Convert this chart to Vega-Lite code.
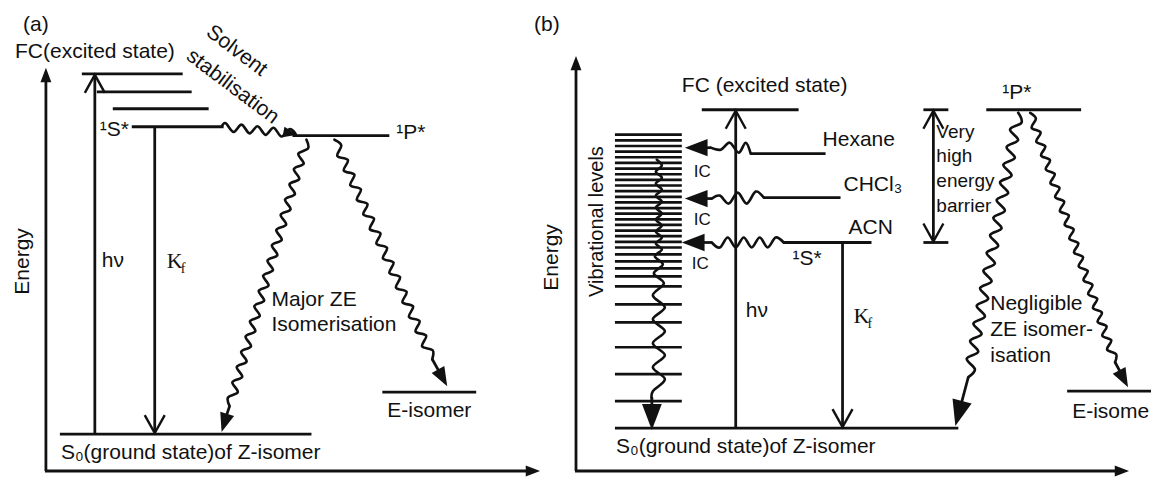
{
  "$schema": "https://vega.github.io/schema/vega-lite/v6.json",
  "width": 1153,
  "height": 477,
  "autosize": {"type": "fit", "contains": "padding"},
  "padding": 0,
  "background": "white",
  "config": {"view": {"stroke": null}},
  "datasets": {
    "segs": [
      {"x":82,"y":74,"x2":183,"y2":74,"kind":"level"},
      {"x":97,"y":92,"x2":192,"y2":92,"kind":"level"},
      {"x":113,"y":109,"x2":209,"y2":109,"kind":"level"},
      {"x":132,"y":127,"x2":224,"y2":127,"kind":"level"},
      {"x":293,"y":136,"x2":390,"y2":136,"kind":"level"},
      {"x":383,"y":393,"x2":477,"y2":393,"kind":"level"},
      {"x":60,"y":435,"x2":312,"y2":435,"kind":"level"},
      {"x":95,"y":435,"x2":95,"y2":76,"kind":"arrow"},
      {"x":155,"y":127,"x2":155,"y2":433,"kind":"arrow"},
      {"x":46,"y":472,"x2":46,"y2":76,"kind":"axis"},
      {"x":45,"y":472,"x2":534,"y2":472,"kind":"axis"},
      {"x":230,"y":407,"x2":225,"y2":422,"kind":"shaft"},
      {"x":433,"y":360,"x2":442,"y2":376,"kind":"shaft"},
      {"x":703,"y":110,"x2":800,"y2":110,"kind":"level"},
      {"x":752,"y":154,"x2":827,"y2":154,"kind":"level"},
      {"x":765,"y":198,"x2":842,"y2":198,"kind":"level"},
      {"x":785,"y":243,"x2":873,"y2":243,"kind":"level"},
      {"x":616,"y":429,"x2":960,"y2":429,"kind":"level"},
      {"x":988,"y":110,"x2":1083,"y2":110,"kind":"level"},
      {"x":1069,"y":392,"x2":1153,"y2":392,"kind":"level"},
      {"x":925,"y":110,"x2":950,"y2":110,"kind":"level"},
      {"x":925,"y":243,"x2":950,"y2":243,"kind":"level"},
      {"x":737,"y":429,"x2":737,"y2":112,"kind":"arrow"},
      {"x":844,"y":243,"x2":844,"y2":427,"kind":"arrow"},
      {"x":935,"y":112,"x2":935,"y2":241,"kind":"arrow"},
      {"x":577,"y":472,"x2":577,"y2":63,"kind":"axis"},
      {"x":576,"y":472,"x2":1124,"y2":472,"kind":"axis"},
      {"x":712,"y":148,"x2":696,"y2":148,"kind":"shaft"},
      {"x":713,"y":199,"x2":696,"y2":199,"kind":"shaft"},
      {"x":713,"y":243,"x2":693,"y2":243,"kind":"shaft"},
      {"x":653,"y":398,"x2":653,"y2":412,"kind":"thinshaft"},
      {"x":970,"y":378,"x2":962,"y2":408,"kind":"thinshaft"},
      {"x":1117,"y":363,"x2":1125,"y2":378,"kind":"shaft"},
      {"x":616,"y":135,"x2":683,"y2":135,"kind":"dense"},
      {"x":616,"y":140.7,"x2":683,"y2":140.7,"kind":"dense"},
      {"x":616,"y":146.3,"x2":683,"y2":146.3,"kind":"dense"},
      {"x":616,"y":152,"x2":683,"y2":152,"kind":"dense"},
      {"x":616,"y":157.6,"x2":683,"y2":157.6,"kind":"dense"},
      {"x":616,"y":163.3,"x2":683,"y2":163.3,"kind":"dense"},
      {"x":616,"y":168.9,"x2":683,"y2":168.9,"kind":"dense"},
      {"x":616,"y":174.6,"x2":683,"y2":174.6,"kind":"dense"},
      {"x":616,"y":180.2,"x2":683,"y2":180.2,"kind":"dense"},
      {"x":616,"y":185.9,"x2":683,"y2":185.9,"kind":"dense"},
      {"x":616,"y":191.5,"x2":683,"y2":191.5,"kind":"dense"},
      {"x":616,"y":197.2,"x2":683,"y2":197.2,"kind":"dense"},
      {"x":616,"y":202.8,"x2":683,"y2":202.8,"kind":"dense"},
      {"x":616,"y":208.5,"x2":683,"y2":208.5,"kind":"dense"},
      {"x":616,"y":214.1,"x2":683,"y2":214.1,"kind":"dense"},
      {"x":616,"y":219.8,"x2":683,"y2":219.8,"kind":"dense"},
      {"x":616,"y":225.4,"x2":683,"y2":225.4,"kind":"dense"},
      {"x":616,"y":231.1,"x2":683,"y2":231.1,"kind":"dense"},
      {"x":616,"y":236.7,"x2":683,"y2":236.7,"kind":"dense"},
      {"x":616,"y":242.4,"x2":683,"y2":242.4,"kind":"dense"},
      {"x":616,"y":248,"x2":683,"y2":248,"kind":"dense"},
      {"x":616,"y":255,"x2":683,"y2":255,"kind":"vib"},
      {"x":616,"y":262,"x2":683,"y2":262,"kind":"vib"},
      {"x":616,"y":269,"x2":683,"y2":269,"kind":"vib"},
      {"x":616,"y":277,"x2":683,"y2":277,"kind":"vib"},
      {"x":616,"y":287,"x2":683,"y2":287,"kind":"vib"},
      {"x":616,"y":305,"x2":683,"y2":305,"kind":"vib"},
      {"x":616,"y":323,"x2":683,"y2":323,"kind":"vib"},
      {"x":616,"y":348,"x2":683,"y2":348,"kind":"vib"},
      {"x":616,"y":375,"x2":683,"y2":375,"kind":"vib"},
      {"x":616,"y":402,"x2":683,"y2":402,"kind":"vib"}
    ],
    "waves": [
      {"w":"a0","k":0,"x":222,"y":127,"kind":"thick"},
      {"w":"a0","k":1,"x":226,"y":123.4,"kind":"thick"},
      {"w":"a0","k":2,"x":234,"y":132.2,"kind":"thick"},
      {"w":"a0","k":3,"x":242,"y":124.9,"kind":"thick"},
      {"w":"a0","k":4,"x":250,"y":133.7,"kind":"thick"},
      {"w":"a0","k":5,"x":258,"y":126.5,"kind":"thick"},
      {"w":"a0","k":6,"x":266,"y":135.2,"kind":"thick"},
      {"w":"a0","k":7,"x":274,"y":128,"kind":"thick"},
      {"w":"a0","k":8,"x":282,"y":136.8,"kind":"thick"},
      {"w":"a0","k":9,"x":290,"y":129.5,"kind":"thick"},
      {"w":"a0","k":10,"x":296,"y":134,"kind":"thick"},
      {"w":"a1","k":0,"x":307,"y":140,"kind":"mid"},
      {"w":"a1","k":1,"x":308.6,"y":148.7,"kind":"mid"},
      {"w":"a1","k":2,"x":298.8,"y":154.2,"kind":"mid"},
      {"w":"a1","k":3,"x":304.2,"y":164,"kind":"mid"},
      {"w":"a1","k":4,"x":294.4,"y":169.4,"kind":"mid"},
      {"w":"a1","k":5,"x":299.8,"y":179.3,"kind":"mid"},
      {"w":"a1","k":6,"x":290,"y":184.7,"kind":"mid"},
      {"w":"a1","k":7,"x":295.4,"y":194.5,"kind":"mid"},
      {"w":"a1","k":8,"x":285.6,"y":199.9,"kind":"mid"},
      {"w":"a1","k":9,"x":291,"y":209.8,"kind":"mid"},
      {"w":"a1","k":10,"x":281.2,"y":215.2,"kind":"mid"},
      {"w":"a1","k":11,"x":286.6,"y":225,"kind":"mid"},
      {"w":"a1","k":12,"x":276.8,"y":230.4,"kind":"mid"},
      {"w":"a1","k":13,"x":282.2,"y":240.3,"kind":"mid"},
      {"w":"a1","k":14,"x":272.4,"y":245.7,"kind":"mid"},
      {"w":"a1","k":15,"x":277.8,"y":255.6,"kind":"mid"},
      {"w":"a1","k":16,"x":268,"y":261,"kind":"mid"},
      {"w":"a1","k":17,"x":273.4,"y":270.8,"kind":"mid"},
      {"w":"a1","k":18,"x":263.6,"y":276.2,"kind":"mid"},
      {"w":"a1","k":19,"x":269,"y":286.1,"kind":"mid"},
      {"w":"a1","k":20,"x":259.2,"y":291.5,"kind":"mid"},
      {"w":"a1","k":21,"x":264.6,"y":301.3,"kind":"mid"},
      {"w":"a1","k":22,"x":254.8,"y":306.7,"kind":"mid"},
      {"w":"a1","k":23,"x":260.2,"y":316.6,"kind":"mid"},
      {"w":"a1","k":24,"x":250.4,"y":322,"kind":"mid"},
      {"w":"a1","k":25,"x":255.8,"y":331.8,"kind":"mid"},
      {"w":"a1","k":26,"x":246,"y":337.2,"kind":"mid"},
      {"w":"a1","k":27,"x":251.4,"y":347.1,"kind":"mid"},
      {"w":"a1","k":28,"x":241.6,"y":352.5,"kind":"mid"},
      {"w":"a1","k":29,"x":247,"y":362.4,"kind":"mid"},
      {"w":"a1","k":30,"x":237.2,"y":367.8,"kind":"mid"},
      {"w":"a1","k":31,"x":242.6,"y":377.6,"kind":"mid"},
      {"w":"a1","k":32,"x":232.8,"y":383,"kind":"mid"},
      {"w":"a1","k":33,"x":238.2,"y":392.9,"kind":"mid"},
      {"w":"a1","k":34,"x":228.4,"y":398.3,"kind":"mid"},
      {"w":"a1","k":35,"x":230,"y":407,"kind":"mid"},
      {"w":"a2","k":0,"x":335,"y":140,"kind":"thin"},
      {"w":"a2","k":1,"x":341.9,"y":145.7,"kind":"thin"},
      {"w":"a2","k":2,"x":337.9,"y":156.3,"kind":"thin"},
      {"w":"a2","k":3,"x":348.5,"y":160.4,"kind":"thin"},
      {"w":"a2","k":4,"x":344.4,"y":171,"kind":"thin"},
      {"w":"a2","k":5,"x":355,"y":175,"kind":"thin"},
      {"w":"a2","k":6,"x":350.9,"y":185.6,"kind":"thin"},
      {"w":"a2","k":7,"x":361.5,"y":189.7,"kind":"thin"},
      {"w":"a2","k":8,"x":357.5,"y":200.3,"kind":"thin"},
      {"w":"a2","k":9,"x":368.1,"y":204.4,"kind":"thin"},
      {"w":"a2","k":10,"x":364,"y":215,"kind":"thin"},
      {"w":"a2","k":11,"x":374.6,"y":219,"kind":"thin"},
      {"w":"a2","k":12,"x":370.5,"y":229.6,"kind":"thin"},
      {"w":"a2","k":13,"x":381.1,"y":233.7,"kind":"thin"},
      {"w":"a2","k":14,"x":377.1,"y":244.3,"kind":"thin"},
      {"w":"a2","k":15,"x":387.7,"y":248.4,"kind":"thin"},
      {"w":"a2","k":16,"x":383.6,"y":259,"kind":"thin"},
      {"w":"a2","k":17,"x":394.2,"y":263,"kind":"thin"},
      {"w":"a2","k":18,"x":390.1,"y":273.6,"kind":"thin"},
      {"w":"a2","k":19,"x":400.7,"y":277.7,"kind":"thin"},
      {"w":"a2","k":20,"x":396.7,"y":288.3,"kind":"thin"},
      {"w":"a2","k":21,"x":407.3,"y":292.4,"kind":"thin"},
      {"w":"a2","k":22,"x":403.2,"y":303,"kind":"thin"},
      {"w":"a2","k":23,"x":413.8,"y":307,"kind":"thin"},
      {"w":"a2","k":24,"x":409.7,"y":317.6,"kind":"thin"},
      {"w":"a2","k":25,"x":420.3,"y":321.7,"kind":"thin"},
      {"w":"a2","k":26,"x":416.3,"y":332.3,"kind":"thin"},
      {"w":"a2","k":27,"x":426.9,"y":336.4,"kind":"thin"},
      {"w":"a2","k":28,"x":422.8,"y":347,"kind":"thin"},
      {"w":"a2","k":29,"x":433.4,"y":351,"kind":"thin"},
      {"w":"a2","k":30,"x":433,"y":360,"kind":"thin"},
      {"w":"b1","k":0,"x":752,"y":154,"kind":"mid"},
      {"w":"b1","k":1,"x":747,"y":143,"kind":"mid"},
      {"w":"b1","k":2,"x":740,"y":153,"kind":"mid"},
      {"w":"b1","k":3,"x":731,"y":143,"kind":"mid"},
      {"w":"b1","k":4,"x":722,"y":150,"kind":"mid"},
      {"w":"b1","k":5,"x":712,"y":148,"kind":"mid"},
      {"w":"b2","k":0,"x":765,"y":198,"kind":"mid"},
      {"w":"b2","k":1,"x":757,"y":192,"kind":"mid"},
      {"w":"b2","k":2,"x":748,"y":204,"kind":"mid"},
      {"w":"b2","k":3,"x":739,"y":193,"kind":"mid"},
      {"w":"b2","k":4,"x":730,"y":204,"kind":"mid"},
      {"w":"b2","k":5,"x":721,"y":196,"kind":"mid"},
      {"w":"b2","k":6,"x":713,"y":199,"kind":"mid"},
      {"w":"b3","k":0,"x":785,"y":243,"kind":"mid"},
      {"w":"b3","k":1,"x":777,"y":238,"kind":"mid"},
      {"w":"b3","k":2,"x":769,"y":248,"kind":"mid"},
      {"w":"b3","k":3,"x":761,"y":238,"kind":"mid"},
      {"w":"b3","k":4,"x":753,"y":248,"kind":"mid"},
      {"w":"b3","k":5,"x":745,"y":238,"kind":"mid"},
      {"w":"b3","k":6,"x":737,"y":248,"kind":"mid"},
      {"w":"b3","k":7,"x":729,"y":238,"kind":"mid"},
      {"w":"b3","k":8,"x":721,"y":248,"kind":"mid"},
      {"w":"b3","k":9,"x":713,"y":243,"kind":"mid"},
      {"w":"b4","k":0,"x":658,"y":160,"kind":"stack"},
      {"w":"b4","k":1,"x":663,"y":166,"kind":"stack"},
      {"w":"b4","k":2,"x":657,"y":172,"kind":"stack"},
      {"w":"b4","k":3,"x":663,"y":178,"kind":"stack"},
      {"w":"b4","k":4,"x":657,"y":184,"kind":"stack"},
      {"w":"b4","k":5,"x":663,"y":190,"kind":"stack"},
      {"w":"b4","k":6,"x":657,"y":196,"kind":"stack"},
      {"w":"b4","k":7,"x":663,"y":202,"kind":"stack"},
      {"w":"b4","k":8,"x":657,"y":208,"kind":"stack"},
      {"w":"b4","k":9,"x":663,"y":214,"kind":"stack"},
      {"w":"b4","k":10,"x":657,"y":220,"kind":"stack"},
      {"w":"b4","k":11,"x":663,"y":226,"kind":"stack"},
      {"w":"b4","k":12,"x":657,"y":232,"kind":"stack"},
      {"w":"b4","k":13,"x":663,"y":238,"kind":"stack"},
      {"w":"b4","k":14,"x":657,"y":244,"kind":"stack"},
      {"w":"b4","k":15,"x":663,"y":250,"kind":"stack"},
      {"w":"b4","k":16,"x":656,"y":257,"kind":"stack"},
      {"w":"b4","k":17,"x":664,"y":265,"kind":"stack"},
      {"w":"b4","k":18,"x":655,"y":274,"kind":"stack"},
      {"w":"b4","k":19,"x":665,"y":284,"kind":"stack"},
      {"w":"b4","k":20,"x":654,"y":296,"kind":"stack"},
      {"w":"b4","k":21,"x":666,"y":308,"kind":"stack"},
      {"w":"b4","k":22,"x":654,"y":320,"kind":"stack"},
      {"w":"b4","k":23,"x":666,"y":332,"kind":"stack"},
      {"w":"b4","k":24,"x":654,"y":344,"kind":"stack"},
      {"w":"b4","k":25,"x":666,"y":356,"kind":"stack"},
      {"w":"b4","k":26,"x":654,"y":368,"kind":"stack"},
      {"w":"b4","k":27,"x":666,"y":380,"kind":"stack"},
      {"w":"b4","k":28,"x":654,"y":392,"kind":"stack"},
      {"w":"b4","k":29,"x":653,"y":400,"kind":"stack"},
      {"w":"b5","k":0,"x":1020,"y":113,"kind":"heavy"},
      {"w":"b5","k":1,"x":1023.3,"y":122.8,"kind":"heavy"},
      {"w":"b5","k":2,"x":1011.8,"y":129.7,"kind":"heavy"},
      {"w":"b5","k":3,"x":1019.9,"y":140.4,"kind":"heavy"},
      {"w":"b5","k":4,"x":1008.4,"y":147.4,"kind":"heavy"},
      {"w":"b5","k":5,"x":1016.6,"y":158.1,"kind":"heavy"},
      {"w":"b5","k":6,"x":1005.1,"y":165.1,"kind":"heavy"},
      {"w":"b5","k":7,"x":1013.3,"y":175.8,"kind":"heavy"},
      {"w":"b5","k":8,"x":1001.8,"y":182.7,"kind":"heavy"},
      {"w":"b5","k":9,"x":1009.9,"y":193.4,"kind":"heavy"},
      {"w":"b5","k":10,"x":998.4,"y":200.4,"kind":"heavy"},
      {"w":"b5","k":11,"x":1006.6,"y":211.1,"kind":"heavy"},
      {"w":"b5","k":12,"x":995.1,"y":218.1,"kind":"heavy"},
      {"w":"b5","k":13,"x":1003.3,"y":228.8,"kind":"heavy"},
      {"w":"b5","k":14,"x":991.8,"y":235.7,"kind":"heavy"},
      {"w":"b5","k":15,"x":999.9,"y":246.4,"kind":"heavy"},
      {"w":"b5","k":16,"x":988.4,"y":253.4,"kind":"heavy"},
      {"w":"b5","k":17,"x":996.6,"y":264.1,"kind":"heavy"},
      {"w":"b5","k":18,"x":985.1,"y":271.1,"kind":"heavy"},
      {"w":"b5","k":19,"x":993.3,"y":281.8,"kind":"heavy"},
      {"w":"b5","k":20,"x":981.8,"y":288.7,"kind":"heavy"},
      {"w":"b5","k":21,"x":989.9,"y":299.4,"kind":"heavy"},
      {"w":"b5","k":22,"x":978.4,"y":306.4,"kind":"heavy"},
      {"w":"b5","k":23,"x":986.6,"y":317.1,"kind":"heavy"},
      {"w":"b5","k":24,"x":975.1,"y":324.1,"kind":"heavy"},
      {"w":"b5","k":25,"x":983.3,"y":334.8,"kind":"heavy"},
      {"w":"b5","k":26,"x":971.8,"y":341.7,"kind":"heavy"},
      {"w":"b5","k":27,"x":979.9,"y":352.4,"kind":"heavy"},
      {"w":"b5","k":28,"x":968.4,"y":359.4,"kind":"heavy"},
      {"w":"b5","k":29,"x":976.6,"y":370.1,"kind":"heavy"},
      {"w":"b5","k":30,"x":970,"y":378,"kind":"heavy"},
      {"w":"b6","k":0,"x":1032,"y":113,"kind":"thin"},
      {"w":"b6","k":1,"x":1037.7,"y":118.8,"kind":"thin"},
      {"w":"b6","k":2,"x":1033.4,"y":128,"kind":"thin"},
      {"w":"b6","k":3,"x":1042.4,"y":132.7,"kind":"thin"},
      {"w":"b6","k":4,"x":1038.1,"y":141.9,"kind":"thin"},
      {"w":"b6","k":5,"x":1047.1,"y":146.6,"kind":"thin"},
      {"w":"b6","k":6,"x":1042.9,"y":155.8,"kind":"thin"},
      {"w":"b6","k":7,"x":1051.8,"y":160.5,"kind":"thin"},
      {"w":"b6","k":8,"x":1047.6,"y":169.7,"kind":"thin"},
      {"w":"b6","k":9,"x":1056.6,"y":174.4,"kind":"thin"},
      {"w":"b6","k":10,"x":1052.3,"y":183.6,"kind":"thin"},
      {"w":"b6","k":11,"x":1061.3,"y":188.3,"kind":"thin"},
      {"w":"b6","k":12,"x":1057,"y":197.5,"kind":"thin"},
      {"w":"b6","k":13,"x":1066,"y":202.1,"kind":"thin"},
      {"w":"b6","k":14,"x":1061.7,"y":211.4,"kind":"thin"},
      {"w":"b6","k":15,"x":1070.7,"y":216,"kind":"thin"},
      {"w":"b6","k":16,"x":1066.5,"y":225.2,"kind":"thin"},
      {"w":"b6","k":17,"x":1075.5,"y":229.9,"kind":"thin"},
      {"w":"b6","k":18,"x":1071.2,"y":239.1,"kind":"thin"},
      {"w":"b6","k":19,"x":1080.2,"y":243.8,"kind":"thin"},
      {"w":"b6","k":20,"x":1075.9,"y":253,"kind":"thin"},
      {"w":"b6","k":21,"x":1084.9,"y":257.7,"kind":"thin"},
      {"w":"b6","k":22,"x":1080.6,"y":266.9,"kind":"thin"},
      {"w":"b6","k":23,"x":1089.6,"y":271.6,"kind":"thin"},
      {"w":"b6","k":24,"x":1085.4,"y":280.8,"kind":"thin"},
      {"w":"b6","k":25,"x":1094.3,"y":285.5,"kind":"thin"},
      {"w":"b6","k":26,"x":1090.1,"y":294.7,"kind":"thin"},
      {"w":"b6","k":27,"x":1099.1,"y":299.4,"kind":"thin"},
      {"w":"b6","k":28,"x":1094.8,"y":308.6,"kind":"thin"},
      {"w":"b6","k":29,"x":1103.8,"y":313.3,"kind":"thin"},
      {"w":"b6","k":30,"x":1099.5,"y":322.5,"kind":"thin"},
      {"w":"b6","k":31,"x":1108.5,"y":327.1,"kind":"thin"},
      {"w":"b6","k":32,"x":1104.2,"y":336.3,"kind":"thin"},
      {"w":"b6","k":33,"x":1113.2,"y":341,"kind":"thin"},
      {"w":"b6","k":34,"x":1109,"y":350.2,"kind":"thin"},
      {"w":"b6","k":35,"x":1118,"y":354.9,"kind":"thin"},
      {"w":"b6","k":36,"x":1117,"y":363,"kind":"thin"}
    ],
    "chevrons": [
      {"x":95,"y":75,"angle":0},
      {"x":155,"y":434,"angle":180},
      {"x":737,"y":111,"angle":0},
      {"x":844,"y":428,"angle":180},
      {"x":935,"y":111,"angle":0},
      {"x":935,"y":242,"angle":180}
    ],
    "heads": [
      {"x":46,"y":68,"angle":0,"kind":"axis"},
      {"x":541,"y":472,"angle":90,"kind":"axis"},
      {"x":577,"y":56,"angle":0,"kind":"axis"},
      {"x":1131,"y":472,"angle":90,"kind":"axis"},
      {"x":298,"y":135,"angle":101,"kind":"axis"},
      {"x":222,"y":433,"angle":197,"kind":"ze"},
      {"x":448,"y":387,"angle":151,"kind":"ze"},
      {"x":1130,"y":388,"angle":152,"kind":"ze"},
      {"x":686,"y":148,"angle":270,"kind":"ic"},
      {"x":686,"y":199,"angle":270,"kind":"ic"},
      {"x":683,"y":243,"angle":270,"kind":"ic"},
      {"x":653,"y":431,"angle":180,"kind":"big"},
      {"x":957,"y":427,"angle":195,"kind":"big"}
    ],
    "texts": [
      {"x":23,"y":25,"text":"(a)","kind":"label"},
      {"x":15,"y":52,"text":"FC(excited state)","kind":"label"},
      {"x":100,"y":130,"text":"¹S*","kind":"label"},
      {"x":397,"y":133,"text":"¹P*","kind":"label"},
      {"x":102,"y":262,"text":"hν","kind":"label"},
      {"x":272,"y":301,"text":"Major ZE","kind":"label"},
      {"x":272,"y":326,"text":"Isomerisation","kind":"label"},
      {"x":388,"y":412,"text":"E-isomer","kind":"label"},
      {"x":61,"y":454,"text":"S₀(ground state)of Z-isomer","kind":"label"},
      {"x":535,"y":25,"text":"(b)","kind":"label"},
      {"x":683,"y":86,"text":"FC (excited state)","kind":"label"},
      {"x":824,"y":140,"text":"Hexane","kind":"label"},
      {"x":845,"y":185,"text":"CHCl₃","kind":"label"},
      {"x":850,"y":228,"text":"ACN","kind":"label"},
      {"x":794,"y":260,"text":"¹S*","kind":"label"},
      {"x":747,"y":312,"text":"hν","kind":"label"},
      {"x":1004,"y":93,"text":"¹P*","kind":"label"},
      {"x":992,"y":305,"text":"Negligible","kind":"label"},
      {"x":992,"y":331,"text":"ZE isomer-","kind":"label"},
      {"x":992,"y":357,"text":"isation","kind":"label"},
      {"x":1074,"y":413,"text":"E-isome","kind":"label"},
      {"x":617,"y":448,"text":"S₀(ground state)of Z-isomer","kind":"label"},
      {"x":695,"y":172,"text":"IC","kind":"ic"},
      {"x":695,"y":220,"text":"IC","kind":"ic"},
      {"x":693,"y":265,"text":"IC","kind":"ic"},
      {"x":938,"y":132,"text":"Very","kind":"barrier"},
      {"x":938,"y":156,"text":"high","kind":"barrier"},
      {"x":938,"y":181,"text":"energy","kind":"barrier"},
      {"x":938,"y":206,"text":"barrier","kind":"barrier"},
      {"x":23,"y":262,"text":"Energy","kind":"vert"},
      {"x":553,"y":258,"text":"Energy","kind":"vert"},
      {"x":598,"y":222,"text":"Vibrational levels","kind":"vib"},
      {"x":237,"y":51,"text":"Solvent","kind":"diag"},
      {"x":233,"y":87,"text":"stabilisation","kind":"diag"},
      {"x":167,"y":262,"text":"K","kind":"serif"},
      {"x":855,"y":317,"text":"K","kind":"serif"},
      {"x":181,"y":270,"text":"f","kind":"sub"},
      {"x":869,"y":325,"text":"f","kind":"sub"}
    ]
  },
  "encoding": {
    "x": {"field": "x", "type": "quantitative", "scale": {"domain": [0, 1153], "nice": false, "zero": false}, "axis": null},
    "y": {"field": "y", "type": "quantitative", "scale": {"domain": [0, 477], "nice": false, "zero": false, "reverse": true}, "axis": null}
  },
  "layer": [
    {
      "data": {"name": "segs"},
      "mark": {"type": "rule", "color": "#111111", "strokeCap": "butt"},
      "encoding": {
        "x2": {"field": "x2"},
        "y2": {"field": "y2"},
        "strokeWidth": {"field": "kind", "type": "ordinal", "legend": null,
          "scale": {"domain": ["level", "axis", "arrow", "shaft", "thinshaft", "dense", "vib"], "range": [2.8, 2.6, 2.3, 4.5, 2, 3.8, 3]}}
      }
    },
    {
      "data": {"name": "waves"},
      "mark": {"type": "line", "color": "#111111", "interpolate": "cardinal", "strokeCap": "round"},
      "encoding": {
        "detail": {"field": "w"},
        "order": {"field": "k", "type": "quantitative"},
        "strokeWidth": {"field": "kind", "type": "ordinal", "legend": null,
          "scale": {"domain": ["heavy", "thick", "mid", "thin", "stack"], "range": [3.5, 3, 2.1, 1.7, 2.5]}}
      }
    },
    {
      "data": {"name": "chevrons"},
      "mark": {"type": "point", "shape": "M-1,1.8L0,0L1,1.8", "filled": false, "stroke": "#111111", "strokeWidth": 2.4, "size": 400, "opacity": 1},
      "encoding": {"angle": {"field": "angle", "type": "quantitative", "scale": null}}
    },
    {
      "data": {"name": "heads"},
      "mark": {"type": "point", "shape": "M0,0L-0.38,1L0.38,1Z", "filled": true, "fill": "#111111", "strokeWidth": 0, "opacity": 1},
      "encoding": {
        "angle": {"field": "angle", "type": "quantitative", "scale": null},
        "size": {"field": "kind", "type": "ordinal", "legend": null,
          "scale": {"domain": ["axis", "ze", "ic", "big"], "range": [820, 2700, 2100, 4900]}}
      }
    },
    {
      "data": {"name": "texts"},
      "transform": [{"filter": "datum.kind === 'label'"}],
      "mark": {"type": "text", "font": "Liberation Sans", "fontSize": 21, "align": "left", "baseline": "middle", "color": "#111111"},
      "encoding": {"text": {"field": "text"}}
    },
    {
      "data": {"name": "texts"},
      "transform": [{"filter": "datum.kind === 'ic'"}],
      "mark": {"type": "text", "font": "Liberation Sans", "fontSize": 17, "align": "left", "baseline": "middle", "color": "#111111"},
      "encoding": {"text": {"field": "text"}}
    },
    {
      "data": {"name": "texts"},
      "transform": [{"filter": "datum.kind === 'barrier'"}],
      "mark": {"type": "text", "font": "Liberation Sans", "fontSize": 19, "align": "left", "baseline": "middle", "color": "#111111"},
      "encoding": {"text": {"field": "text"}}
    },
    {
      "data": {"name": "texts"},
      "transform": [{"filter": "datum.kind === 'vert'"}],
      "mark": {"type": "text", "font": "Liberation Sans", "fontSize": 21, "align": "center", "baseline": "middle", "angle": 270, "color": "#111111"},
      "encoding": {"text": {"field": "text"}}
    },
    {
      "data": {"name": "texts"},
      "transform": [{"filter": "datum.kind === 'vib'"}],
      "mark": {"type": "text", "font": "Liberation Sans", "fontSize": 20, "align": "center", "baseline": "middle", "angle": 270, "color": "#111111"},
      "encoding": {"text": {"field": "text"}}
    },
    {
      "data": {"name": "texts"},
      "transform": [{"filter": "datum.kind === 'diag'"}],
      "mark": {"type": "text", "font": "Liberation Sans", "fontSize": 21, "align": "center", "baseline": "middle", "angle": 37, "color": "#111111"},
      "encoding": {"text": {"field": "text"}}
    },
    {
      "data": {"name": "texts"},
      "transform": [{"filter": "datum.kind === 'serif'"}],
      "mark": {"type": "text", "font": "Liberation Serif", "fontSize": 22, "align": "left", "baseline": "middle", "color": "#111111"},
      "encoding": {"text": {"field": "text"}}
    },
    {
      "data": {"name": "texts"},
      "transform": [{"filter": "datum.kind === 'sub'"}],
      "mark": {"type": "text", "font": "Liberation Serif", "fontSize": 14, "align": "left", "baseline": "middle", "color": "#111111"},
      "encoding": {"text": {"field": "text"}}
    }
  ]
}
